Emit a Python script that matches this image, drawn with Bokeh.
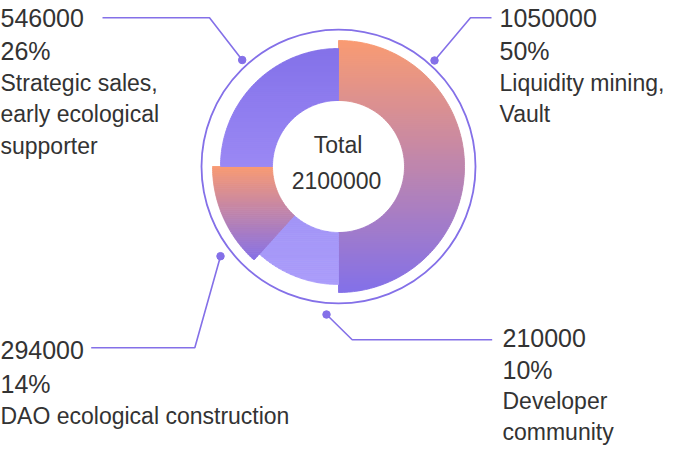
import numpy as np
from bokeh.plotting import figure
from bokeh.models import ColumnDataSource, Range1d
from bokeh.core.properties import value
from bokeh.embed import file_html
from bokeh.resources import INLINE

# ---------------- data ----------------
total = 2100000
amounts = [1050000, 210000, 294000, 546000]
percents = ["50%", "10%", "14%", "26%"]
names = [["Liquidity mining,", "Vault"],
         ["Developer", "community"],
         ["DAO ecological construction"],
         ["Strategic sales,", "early ecological", "supporter"]]
# angular share of each slice as drawn in the picture (percent of the circle)
slice_share = [50.0, 11.7, 13.3, 25.0]

# ---------------- style ----------------
outer_r = [126, 118, 126, 118]
inner_r = 66
grad_top = ["#F99B72", "#A294F6", "#F99A72", "#8371E9"]
grad_bot = ["#8370E8", "#AB9DFA", "#8670E6", "#9A88F4"]
ring_r = 137
accent = "#8470E8"
text_color = "#333333"
FONT = "Liberation Sans"
BIG, SMALL = 25, 23
BASE_FIX = 0.37  # empirical baseline correction (in em)

# picture-pixel helpers (chart centre sits at pixel 338,166)
CXI, CYI = 338, 166
def X(xi): return xi - CXI
def Y(yi): return CYI - yi

W, H = 666, 446
p = figure(width=W, height=H, x_range=Range1d(X(0), X(W)), y_range=Range1d(Y(H), Y(0)),
           output_backend="svg", toolbar_location=None, min_border=0)
p.axis.visible = False
p.grid.visible = False
p.outline_line_color = None
p.background_fill_color = "white"
p.border_fill_color = "white"

def hex2rgb(h):
    h = h.lstrip("#")
    return np.array([int(h[i:i + 2], 16) for i in (0, 2, 4)], dtype=float)

def mix(c0, c1, t):
    c = hex2rgb(c0) * (1 - t) + hex2rgb(c1) * t
    return "#%02x%02x%02x" % tuple(int(round(v)) for v in c)

def clip(pts, inside, isect):
    out = []
    n = len(pts)
    for i in range(n):
        P, Q = pts[i - 1], pts[i]
        if inside(Q):
            if not inside(P):
                out.append(isect(P, Q))
            out.append(Q)
        elif inside(P):
            out.append(isect(P, Q))
    return out

def hcut(yc):
    def f(P, Q):
        t = (yc - P[1]) / (Q[1] - P[1])
        return (P[0] + t * (Q[0] - P[0]), yc)
    return f

xs_all, ys_all, cols = [], [], []
start = 0.0
for i, share in enumerate(slice_share):
    a0 = np.deg2rad(start * 3.6)
    a1 = np.deg2rad((start + share) * 3.6)
    start += share
    ang = np.linspace(a0, a1, 160)
    ro = outer_r[i]
    pts = [(ro * np.sin(a), ro * np.cos(a)) for a in ang]
    pts += [(inner_r * np.sin(a), inner_r * np.cos(a)) for a in ang[::-1]]
    ytop = max(q[1] for q in pts)
    ybot = min(q[1] for q in pts)
    nb = max(8, int((ytop - ybot) / 2))
    h = (ytop - ybot) / nb
    for k in range(nb):
        yhi = ytop - k * h
        ylo = ytop - (k + 1) * h
        band = clip(pts, lambda q: q[1] <= yhi, hcut(yhi))
        if len(band) < 3:
            continue
        band = clip(band, lambda q: q[1] >= ylo, hcut(ylo))
        if len(band) < 3:
            continue
        xs_all.append([q[0] for q in band])
        ys_all.append([q[1] for q in band])
        cols.append(mix(grad_top[i], grad_bot[i], (k + 0.5) / nb))

p.patches(xs="xs", ys="ys", fill_color="c", line_color="c", line_width=0.9,
          source=ColumnDataSource(dict(xs=xs_all, ys=ys_all, c=cols)))

# outer ring
p.circle(x=[0], y=[0], radius=ring_r, fill_color=None, line_color=accent, line_width=1.8)

# leader lines (picture pixel positions): dot, elbow, end
leaders = [
    [(434, 60), (470, 17.3), (491, 17.3)],
    [(326, 314), (351.7, 339.3), (491.7, 339.3)],
    [(220, 255.7), (194.3, 347.3), (90.7, 347.3)],
    [(241.7, 59.5), (209, 17.3), (102, 17.3)],
]
p.multi_line(xs=[[X(a[0]) for a in L] for L in leaders],
             ys=[[Y(a[1]) for a in L] for L in leaders],
             line_color=accent, line_width=1.6)
p.scatter(x=[X(L[0][0]) for L in leaders], y=[Y(L[0][1]) for L in leaders],
          size=7.5, fill_color=accent, line_color=accent)

# label blocks: left x (picture px) and baselines of each line
blocks = [
    (499, [26.7, 60, 90.7, 121.7]),
    (502, [346.5, 378.5, 409.5, 440.0]),
    (0, [358.3, 392.3, 424]),
    (0, [26.7, 60, 91, 122.5, 154]),
]
def YB(yb, fs): return Y(yb - BASE_FIX * fs)

big_x, big_y, big_t = [], [], []
sm_x, sm_y, sm_t = [], [], []
for i, (xl, bl) in enumerate(blocks):
    big_x += [X(xl)] * 2
    big_y += [YB(bl[0], BIG), YB(bl[1], BIG)]
    big_t += [str(amounts[i]), percents[i]]
    for j, line in enumerate(names[i]):
        sm_x.append(X(xl))
        sm_y.append(YB(bl[2 + j], SMALL))
        sm_t.append(line)

p.text(x="x", y="y", text="t", source=ColumnDataSource(dict(x=big_x, y=big_y, t=big_t)),
       text_font=value(FONT), text_font_size=value(f"{BIG}px"), text_color=text_color,
       text_align="left", text_baseline="alphabetic")
p.text(x="x", y="y", text="t", source=ColumnDataSource(dict(x=sm_x, y=sm_y, t=sm_t)),
       text_font=value(FONT), text_font_size=value(f"{SMALL}px"), text_color=text_color,
       text_align="left", text_baseline="alphabetic")

# centre text
p.text(x=[X(337.5), X(336)], y=[YB(153.3, SMALL), YB(188.3, SMALL)], text=["Total", str(total)],
       text_font=value(FONT), text_font_size=value(f"{SMALL}px"), text_color=text_color,
       text_align="center", text_baseline="alphabetic")

open("out.html", "w").write(file_html(p, INLINE))
